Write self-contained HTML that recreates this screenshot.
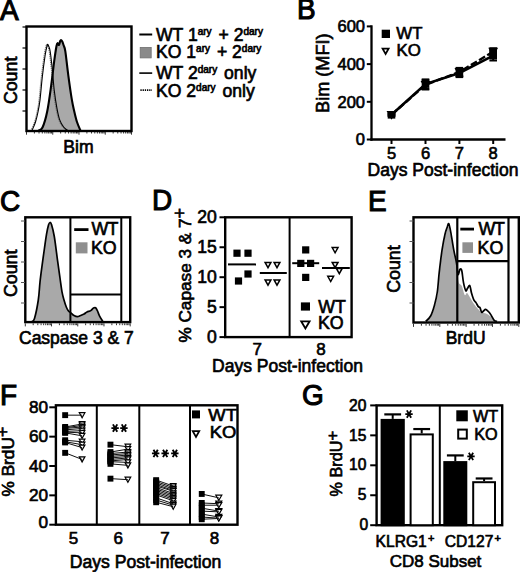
<!DOCTYPE html>
<html><head><meta charset="utf-8"><style>
html,body{margin:0;padding:0;background:#fff;}
svg{display:block;}
text{font-family:"Liberation Sans",sans-serif;fill:#000;stroke:#000;stroke-width:0.65px;}
</style></head><body>
<svg width="520" height="572" viewBox="0 0 520 572" font-family="Liberation Sans, sans-serif">
<rect width="520" height="572" fill="#fff"/>
<text transform="translate(0,20.00) scale(1,1.085)" font-size="28" style="stroke-width:1.05px">A</text>
<path d="M38.50,130.50 C39.17,130.00 41.05,130.67 42.50,127.50 C43.95,124.33 45.75,118.52 47.20,111.50 C48.65,104.48 50.03,93.78 51.20,85.40 C52.37,77.02 53.32,67.77 54.20,61.20 C55.08,54.63 55.93,49.02 56.50,46.00 C57.07,42.98 57.18,43.27 57.60,43.10 C58.02,42.93 58.57,45.35 59.00,45.00 C59.43,44.65 59.83,41.82 60.20,41.00 C60.57,40.18 60.82,39.93 61.20,40.10 C61.58,40.27 62.12,41.18 62.50,42.00 C62.88,42.82 63.03,43.47 63.50,45.00 C63.97,46.53 64.50,46.15 65.30,51.20 C66.10,56.25 67.22,67.27 68.30,75.30 C69.38,83.33 70.80,93.37 71.80,99.40 C72.80,105.43 73.43,107.73 74.30,111.50 C75.17,115.27 75.98,118.83 77.00,122.00 C78.02,125.17 79.83,129.08 80.40,130.50 Z" fill="#a9a9a9" stroke="none"/>
<path d="M31.00,130.50 C31.58,129.08 33.48,125.17 34.50,122.00 C35.52,118.83 36.35,115.17 37.10,111.50 C37.85,107.83 38.30,105.75 39.00,100.00 C39.70,94.25 40.45,84.42 41.30,77.00 C42.15,69.58 43.32,60.67 44.10,55.50 C44.88,50.33 45.55,47.85 46.00,46.00 C46.45,44.15 46.50,44.32 46.80,44.40 C47.10,44.48 47.40,45.32 47.80,46.50 C48.20,47.68 48.60,47.58 49.20,51.50 C49.80,55.42 50.73,63.58 51.40,70.00 C52.07,76.42 52.45,83.65 53.20,90.00 C53.95,96.35 54.98,103.12 55.90,108.10 C56.82,113.08 57.58,116.75 58.70,119.90 C59.82,123.05 61.25,125.23 62.60,127.00 C63.95,128.77 66.10,129.92 66.80,130.50" fill="none" stroke="#666" stroke-width="1.0" stroke-dasharray="1.2,0.8"/>
<path d="M32.00,130.50 C32.58,129.08 34.48,125.17 35.50,122.00 C36.52,118.83 37.35,115.17 38.10,111.50 C38.85,107.83 39.30,105.75 40.00,100.00 C40.70,94.25 41.45,84.42 42.30,77.00 C43.15,69.58 44.32,60.67 45.10,55.50 C45.88,50.33 46.55,47.85 47.00,46.00 C47.45,44.15 47.50,44.32 47.80,44.40 C48.10,44.48 48.40,45.32 48.80,46.50 C49.20,47.68 49.60,47.58 50.20,51.50 C50.80,55.42 51.73,63.58 52.40,70.00 C53.07,76.42 53.45,83.65 54.20,90.00 C54.95,96.35 55.98,103.12 56.90,108.10 C57.82,113.08 58.58,116.75 59.70,119.90 C60.82,123.05 62.25,125.23 63.60,127.00 C64.95,128.77 67.10,129.92 67.80,130.50" fill="none" stroke="#000" stroke-width="1.1"/>
<path d="M38.50,130.50 C39.17,130.00 41.05,130.67 42.50,127.50 C43.95,124.33 45.75,118.52 47.20,111.50 C48.65,104.48 50.03,93.78 51.20,85.40 C52.37,77.02 53.32,67.77 54.20,61.20 C55.08,54.63 55.93,49.02 56.50,46.00 C57.07,42.98 57.18,43.27 57.60,43.10 C58.02,42.93 58.57,45.35 59.00,45.00 C59.43,44.65 59.83,41.82 60.20,41.00 C60.57,40.18 60.82,39.93 61.20,40.10 C61.58,40.27 62.12,41.18 62.50,42.00 C62.88,42.82 63.03,43.47 63.50,45.00 C63.97,46.53 64.50,46.15 65.30,51.20 C66.10,56.25 67.22,67.27 68.30,75.30 C69.38,83.33 70.80,93.37 71.80,99.40 C72.80,105.43 73.43,107.73 74.30,111.50 C75.17,115.27 75.98,118.83 77.00,122.00 C78.02,125.17 79.83,129.08 80.40,130.50" fill="none" stroke="#000" stroke-width="2.1"/>
<rect x="26.5" y="26.5" width="105" height="104.5" fill="none" stroke="#000" stroke-width="2.4"/>
<line x1="22.5" y1="27" x2="26.5" y2="27" stroke="#000" stroke-width="1.2" />
<line x1="22.5" y1="48" x2="26.5" y2="48" stroke="#000" stroke-width="1.2" />
<line x1="22.5" y1="69" x2="26.5" y2="69" stroke="#000" stroke-width="1.2" />
<line x1="22.5" y1="90" x2="26.5" y2="90" stroke="#000" stroke-width="1.2" />
<line x1="22.5" y1="111" x2="26.5" y2="111" stroke="#000" stroke-width="1.2" />
<line x1="26.50" y1="131.7" x2="26.50" y2="134.7" stroke="#000" stroke-width="0.8" />
<line x1="34.40" y1="131.7" x2="34.40" y2="133.5" stroke="#000" stroke-width="0.8" />
<line x1="39.02" y1="131.7" x2="39.02" y2="133.5" stroke="#000" stroke-width="0.8" />
<line x1="42.30" y1="131.7" x2="42.30" y2="133.5" stroke="#000" stroke-width="0.8" />
<line x1="44.85" y1="131.7" x2="44.85" y2="133.5" stroke="#000" stroke-width="0.8" />
<line x1="46.93" y1="131.7" x2="46.93" y2="133.5" stroke="#000" stroke-width="0.8" />
<line x1="48.68" y1="131.7" x2="48.68" y2="133.5" stroke="#000" stroke-width="0.8" />
<line x1="50.21" y1="131.7" x2="50.21" y2="133.5" stroke="#000" stroke-width="0.8" />
<line x1="51.55" y1="131.7" x2="51.55" y2="133.5" stroke="#000" stroke-width="0.8" />
<line x1="52.75" y1="131.7" x2="52.75" y2="134.7" stroke="#000" stroke-width="0.8" />
<line x1="60.65" y1="131.7" x2="60.65" y2="133.5" stroke="#000" stroke-width="0.8" />
<line x1="65.27" y1="131.7" x2="65.27" y2="133.5" stroke="#000" stroke-width="0.8" />
<line x1="68.55" y1="131.7" x2="68.55" y2="133.5" stroke="#000" stroke-width="0.8" />
<line x1="71.10" y1="131.7" x2="71.10" y2="133.5" stroke="#000" stroke-width="0.8" />
<line x1="73.18" y1="131.7" x2="73.18" y2="133.5" stroke="#000" stroke-width="0.8" />
<line x1="74.93" y1="131.7" x2="74.93" y2="133.5" stroke="#000" stroke-width="0.8" />
<line x1="76.46" y1="131.7" x2="76.46" y2="133.5" stroke="#000" stroke-width="0.8" />
<line x1="77.80" y1="131.7" x2="77.80" y2="133.5" stroke="#000" stroke-width="0.8" />
<line x1="79.00" y1="131.7" x2="79.00" y2="134.7" stroke="#000" stroke-width="0.8" />
<line x1="86.90" y1="131.7" x2="86.90" y2="133.5" stroke="#000" stroke-width="0.8" />
<line x1="91.52" y1="131.7" x2="91.52" y2="133.5" stroke="#000" stroke-width="0.8" />
<line x1="94.80" y1="131.7" x2="94.80" y2="133.5" stroke="#000" stroke-width="0.8" />
<line x1="97.35" y1="131.7" x2="97.35" y2="133.5" stroke="#000" stroke-width="0.8" />
<line x1="99.43" y1="131.7" x2="99.43" y2="133.5" stroke="#000" stroke-width="0.8" />
<line x1="101.18" y1="131.7" x2="101.18" y2="133.5" stroke="#000" stroke-width="0.8" />
<line x1="102.71" y1="131.7" x2="102.71" y2="133.5" stroke="#000" stroke-width="0.8" />
<line x1="104.05" y1="131.7" x2="104.05" y2="133.5" stroke="#000" stroke-width="0.8" />
<line x1="105.25" y1="131.7" x2="105.25" y2="134.7" stroke="#000" stroke-width="0.8" />
<line x1="113.15" y1="131.7" x2="113.15" y2="133.5" stroke="#000" stroke-width="0.8" />
<line x1="117.77" y1="131.7" x2="117.77" y2="133.5" stroke="#000" stroke-width="0.8" />
<line x1="121.05" y1="131.7" x2="121.05" y2="133.5" stroke="#000" stroke-width="0.8" />
<line x1="123.60" y1="131.7" x2="123.60" y2="133.5" stroke="#000" stroke-width="0.8" />
<line x1="125.68" y1="131.7" x2="125.68" y2="133.5" stroke="#000" stroke-width="0.8" />
<line x1="127.43" y1="131.7" x2="127.43" y2="133.5" stroke="#000" stroke-width="0.8" />
<line x1="128.96" y1="131.7" x2="128.96" y2="133.5" stroke="#000" stroke-width="0.8" />
<line x1="130.30" y1="131.7" x2="130.30" y2="133.5" stroke="#000" stroke-width="0.8" />
<line x1="131.50" y1="131.7" x2="131.50" y2="134.7" stroke="#000" stroke-width="0.8" />
<text transform="translate(17.1,80.4) rotate(-90)" x="0" y="0" font-size="17.8" text-anchor="middle" >Count</text>
<text x="78.4" y="152.6" font-size="17.6" text-anchor="middle" >Bim</text>
<line x1="139.3" y1="34.5" x2="152.2" y2="34.5" stroke="#000" stroke-width="2" />
<text x="156" y="40.6" font-size="17.6">WT 1<tspan font-size="10" dy="-5.8">ary</tspan><tspan dy="5.8" dx="2"> + 2</tspan><tspan font-size="10" dy="-5.8">dary</tspan></text>
<rect x="140.2" y="47.4" width="11" height="10.5" fill="#8a8a8a" stroke="#707070" stroke-width="0.8"/>
<text x="156" y="58.2" font-size="17.6">KO 1<tspan font-size="10" dy="-5.8">ary</tspan><tspan dy="5.8" dx="2"> + 2</tspan><tspan font-size="10" dy="-5.8">dary</tspan></text>
<line x1="139.3" y1="73.1" x2="152.2" y2="73.1" stroke="#000" stroke-width="1.6" />
<text x="156" y="79.1" font-size="17.6">WT 2<tspan font-size="10" dy="-5.8">dary</tspan><tspan dy="5.8" dx="2"> only</tspan></text>
<line x1="140.4" y1="90.2" x2="152" y2="90.2" stroke="#000" stroke-width="1.8" stroke-dasharray="1.3,0.9"/>
<text x="156" y="96.7" font-size="17.6">KO 2<tspan font-size="10" dy="-5.8">dary</tspan><tspan dy="5.8" dx="2"> only</tspan></text>
<text transform="translate(297,19.10) scale(1,1.085)" font-size="28" style="stroke-width:1.05px">B</text>
<line x1="371.5" y1="25.3" x2="371.5" y2="140.7" stroke="#000" stroke-width="2.3" />
<line x1="370.4" y1="139.5" x2="505.5" y2="139.5" stroke="#000" stroke-width="2.3" />
<line x1="366.8" y1="139.5" x2="371.5" y2="139.5" stroke="#000" stroke-width="2" />
<text x="365" y="144.5" font-size="16.5" text-anchor="end" >0</text>
<line x1="366.8" y1="101.8" x2="371.5" y2="101.8" stroke="#000" stroke-width="2" />
<text x="365" y="107.8" font-size="16.5" text-anchor="end" >200</text>
<line x1="366.8" y1="64.1" x2="371.5" y2="64.1" stroke="#000" stroke-width="2" />
<text x="365" y="70.1" font-size="16.5" text-anchor="end" >400</text>
<line x1="366.8" y1="26.400000000000006" x2="371.5" y2="26.400000000000006" stroke="#000" stroke-width="2" />
<text x="365" y="32.400000000000006" font-size="16.5" text-anchor="end" >600</text>
<line x1="391.5" y1="139.5" x2="391.5" y2="144" stroke="#000" stroke-width="2" />
<text x="391.5" y="158.5" font-size="16.5" text-anchor="middle" >5</text>
<line x1="425.5" y1="139.5" x2="425.5" y2="144" stroke="#000" stroke-width="2" />
<text x="425.5" y="158.5" font-size="16.5" text-anchor="middle" >6</text>
<line x1="459.4" y1="139.5" x2="459.4" y2="144" stroke="#000" stroke-width="2" />
<text x="459.4" y="158.5" font-size="16.5" text-anchor="middle" >7</text>
<line x1="493.2" y1="139.5" x2="493.2" y2="144" stroke="#000" stroke-width="2" />
<text x="493.2" y="158.5" font-size="16.5" text-anchor="middle" >8</text>
<text x="443" y="176" font-size="17.5" text-anchor="middle" >Days Post-infection</text>
<text transform="translate(329.0,73.2) rotate(-90)" x="0" y="0" font-size="18.1" text-anchor="middle" >Bim (MFI)</text>
<line x1="391.5" y1="115.7" x2="391.5" y2="113.9" stroke="#000" stroke-width="2" />
<line x1="387.7" y1="113.9" x2="395.3" y2="113.9" stroke="#000" stroke-width="2" />
<line x1="387.7" y1="115.7" x2="395.3" y2="115.7" stroke="#000" stroke-width="2" />
<line x1="391.5" y1="115.7" x2="391.5" y2="113.9" stroke="#000" stroke-width="2" />
<line x1="387.7" y1="113.9" x2="395.3" y2="113.9" stroke="#000" stroke-width="2" />
<line x1="387.7" y1="115.7" x2="395.3" y2="115.7" stroke="#000" stroke-width="2" />
<line x1="425.5" y1="88.8" x2="425.5" y2="79.4" stroke="#000" stroke-width="2" />
<line x1="421.7" y1="79.4" x2="429.3" y2="79.4" stroke="#000" stroke-width="2" />
<line x1="421.7" y1="88.8" x2="429.3" y2="88.8" stroke="#000" stroke-width="2" />
<line x1="425.5" y1="89.5" x2="425.5" y2="80.1" stroke="#000" stroke-width="2" />
<line x1="421.7" y1="80.1" x2="429.3" y2="80.1" stroke="#000" stroke-width="2" />
<line x1="421.7" y1="89.5" x2="429.3" y2="89.5" stroke="#000" stroke-width="2" />
<line x1="459.4" y1="77.1" x2="459.4" y2="68.8" stroke="#000" stroke-width="2" />
<line x1="455.59999999999997" y1="68.8" x2="463.2" y2="68.8" stroke="#000" stroke-width="2" />
<line x1="455.59999999999997" y1="77.1" x2="463.2" y2="77.1" stroke="#000" stroke-width="2" />
<line x1="459.4" y1="76.2" x2="459.4" y2="67.9" stroke="#000" stroke-width="2" />
<line x1="455.59999999999997" y1="67.9" x2="463.2" y2="67.9" stroke="#000" stroke-width="2" />
<line x1="455.59999999999997" y1="76.2" x2="463.2" y2="76.2" stroke="#000" stroke-width="2" />
<line x1="493.2" y1="60.5" x2="493.2" y2="50.7" stroke="#000" stroke-width="2" />
<line x1="489.4" y1="50.7" x2="497.0" y2="50.7" stroke="#000" stroke-width="2" />
<line x1="489.4" y1="60.5" x2="497.0" y2="60.5" stroke="#000" stroke-width="2" />
<line x1="493.2" y1="55.1" x2="493.2" y2="48.3" stroke="#000" stroke-width="2" />
<line x1="489.4" y1="48.3" x2="497.0" y2="48.3" stroke="#000" stroke-width="2" />
<line x1="489.4" y1="55.1" x2="497.0" y2="55.1" stroke="#000" stroke-width="2" />
<polyline points="391.5,114.8 425.5,84.8 459.4,72.0 493.2,51.7" fill="none" stroke="#000" stroke-width="2.4" stroke-dasharray="7,2.5"/>
<polyline points="391.5,114.8 425.5,84.1 459.4,73.0 493.2,55.6" fill="none" stroke="#000" stroke-width="2.6"/>
<path d="M388.1,111.8 L394.9,111.8 L391.5,118.0 Z" fill="#fff" stroke="#000" stroke-width="1.8"/>
<path d="M422.1,81.8 L428.9,81.8 L425.5,88.0 Z" fill="#fff" stroke="#000" stroke-width="1.8"/>
<path d="M456.0,69.0 L462.8,69.0 L459.4,75.2 Z" fill="#fff" stroke="#000" stroke-width="1.8"/>
<path d="M489.8,48.7 L496.6,48.7 L493.2,54.9 Z" fill="#fff" stroke="#000" stroke-width="1.8"/>
<rect x="387.7" y="111.0" width="7.6" height="7.6" fill="#000"/>
<rect x="421.7" y="80.3" width="7.6" height="7.6" fill="#000"/>
<rect x="455.6" y="69.2" width="7.6" height="7.6" fill="#000"/>
<rect x="489.4" y="51.8" width="7.6" height="7.6" fill="#000"/>
<rect x="489.4" y="47.9" width="7.6" height="7.6" fill="#000"/>
<rect x="381.7" y="29.7" width="8.3" height="8.3" fill="#000"/>
<text x="396.3" y="38.5" font-size="16.8" text-anchor="start" >WT</text>
<path d="M382.6,48.6 L388.6,48.6 L385.6,54 Z" fill="#fff" stroke="#000" stroke-width="1.8"/>
<text x="396.6" y="56.2" font-size="16.8" text-anchor="start" >KO</text>
<text transform="translate(0,211.00) scale(1,1.085)" font-size="28" style="stroke-width:1.05px">C</text>
<path d="M32.00,321.50 C32.42,321.00 33.45,322.08 34.50,318.50 C35.55,314.92 37.38,306.08 38.30,300.00 C39.22,293.92 39.37,287.78 40.00,282.00 C40.63,276.22 41.35,270.97 42.10,265.30 C42.85,259.63 43.77,253.17 44.50,248.00 C45.23,242.83 45.83,238.13 46.50,234.30 C47.17,230.47 47.93,226.97 48.50,225.00 C49.07,223.03 49.40,222.58 49.90,222.50 C50.40,222.42 50.77,222.17 51.50,224.50 C52.23,226.83 53.28,230.43 54.30,236.50 C55.32,242.57 56.65,253.98 57.60,260.90 C58.55,267.82 59.27,272.85 60.00,278.00 C60.73,283.15 61.33,288.13 62.00,291.80 C62.67,295.47 63.27,297.42 64.00,300.00 C64.73,302.58 65.65,305.47 66.40,307.30 C67.15,309.13 67.75,310.08 68.50,311.00 C69.25,311.92 69.98,312.05 70.90,312.80 C71.82,313.55 72.90,314.87 74.00,315.50 C75.10,316.13 76.42,316.60 77.50,316.60 C78.58,316.60 79.40,315.93 80.50,315.50 C81.60,315.07 83.02,314.58 84.10,314.00 C85.18,313.42 85.88,312.57 87.00,312.00 C88.12,311.43 89.72,311.27 90.80,310.60 C91.88,309.93 92.70,308.47 93.50,308.00 C94.30,307.53 94.93,307.30 95.60,307.80 C96.27,308.30 96.83,309.62 97.50,311.00 C98.17,312.38 98.70,314.35 99.60,316.10 C100.50,317.85 102.35,320.60 102.90,321.50 Z" fill="#a9a9a9" stroke="none"/>
<path d="M32.00,321.50 C32.42,321.00 33.45,322.08 34.50,318.50 C35.55,314.92 37.38,306.08 38.30,300.00 C39.22,293.92 39.37,287.78 40.00,282.00 C40.63,276.22 41.35,270.97 42.10,265.30 C42.85,259.63 43.77,253.17 44.50,248.00 C45.23,242.83 45.83,238.13 46.50,234.30 C47.17,230.47 47.93,226.97 48.50,225.00 C49.07,223.03 49.40,222.58 49.90,222.50 C50.40,222.42 50.77,222.17 51.50,224.50 C52.23,226.83 53.28,230.43 54.30,236.50 C55.32,242.57 56.65,253.98 57.60,260.90 C58.55,267.82 59.27,272.85 60.00,278.00 C60.73,283.15 61.33,288.13 62.00,291.80 C62.67,295.47 63.27,297.42 64.00,300.00 C64.73,302.58 65.65,305.47 66.40,307.30 C67.15,309.13 67.75,310.08 68.50,311.00 C69.25,311.92 69.98,312.05 70.90,312.80 C71.82,313.55 72.90,314.87 74.00,315.50 C75.10,316.13 76.42,316.60 77.50,316.60 C78.58,316.60 79.40,315.93 80.50,315.50 C81.60,315.07 83.02,314.58 84.10,314.00 C85.18,313.42 85.88,312.57 87.00,312.00 C88.12,311.43 89.72,311.27 90.80,310.60 C91.88,309.93 92.70,308.47 93.50,308.00 C94.30,307.53 94.93,307.30 95.60,307.80 C96.27,308.30 96.83,309.62 97.50,311.00 C98.17,312.38 98.70,314.35 99.60,316.10 C100.50,317.85 102.35,320.60 102.90,321.50" fill="none" stroke="#000" stroke-width="1.7"/>
<rect x="25.3" y="217.3" width="104.9" height="104.8" fill="none" stroke="#000" stroke-width="2.4"/>
<line x1="70.4" y1="217.3" x2="70.4" y2="322" stroke="#000" stroke-width="2" />
<line x1="121.3" y1="217.3" x2="121.3" y2="322" stroke="#000" stroke-width="2" />
<line x1="70.4" y1="294.5" x2="121.3" y2="294.5" stroke="#000" stroke-width="2" />
<line x1="21" y1="221" x2="25" y2="221" stroke="#555" stroke-width="1" />
<line x1="21" y1="241.5" x2="25" y2="241.5" stroke="#555" stroke-width="1" />
<line x1="21" y1="262" x2="25" y2="262" stroke="#555" stroke-width="1" />
<line x1="21" y1="282.5" x2="25" y2="282.5" stroke="#555" stroke-width="1" />
<line x1="21" y1="303" x2="25" y2="303" stroke="#555" stroke-width="1" />
<line x1="25.30" y1="323.4" x2="25.30" y2="326.4" stroke="#000" stroke-width="0.8" />
<line x1="33.19" y1="323.4" x2="33.19" y2="325.2" stroke="#000" stroke-width="0.8" />
<line x1="37.81" y1="323.4" x2="37.81" y2="325.2" stroke="#000" stroke-width="0.8" />
<line x1="41.09" y1="323.4" x2="41.09" y2="325.2" stroke="#000" stroke-width="0.8" />
<line x1="43.63" y1="323.4" x2="43.63" y2="325.2" stroke="#000" stroke-width="0.8" />
<line x1="45.71" y1="323.4" x2="45.71" y2="325.2" stroke="#000" stroke-width="0.8" />
<line x1="47.46" y1="323.4" x2="47.46" y2="325.2" stroke="#000" stroke-width="0.8" />
<line x1="48.98" y1="323.4" x2="48.98" y2="325.2" stroke="#000" stroke-width="0.8" />
<line x1="50.33" y1="323.4" x2="50.33" y2="325.2" stroke="#000" stroke-width="0.8" />
<line x1="51.52" y1="323.4" x2="51.52" y2="326.4" stroke="#000" stroke-width="0.8" />
<line x1="59.42" y1="323.4" x2="59.42" y2="325.2" stroke="#000" stroke-width="0.8" />
<line x1="64.04" y1="323.4" x2="64.04" y2="325.2" stroke="#000" stroke-width="0.8" />
<line x1="67.31" y1="323.4" x2="67.31" y2="325.2" stroke="#000" stroke-width="0.8" />
<line x1="69.86" y1="323.4" x2="69.86" y2="325.2" stroke="#000" stroke-width="0.8" />
<line x1="71.93" y1="323.4" x2="71.93" y2="325.2" stroke="#000" stroke-width="0.8" />
<line x1="73.69" y1="323.4" x2="73.69" y2="325.2" stroke="#000" stroke-width="0.8" />
<line x1="75.21" y1="323.4" x2="75.21" y2="325.2" stroke="#000" stroke-width="0.8" />
<line x1="76.55" y1="323.4" x2="76.55" y2="325.2" stroke="#000" stroke-width="0.8" />
<line x1="77.75" y1="323.4" x2="77.75" y2="326.4" stroke="#000" stroke-width="0.8" />
<line x1="85.64" y1="323.4" x2="85.64" y2="325.2" stroke="#000" stroke-width="0.8" />
<line x1="90.26" y1="323.4" x2="90.26" y2="325.2" stroke="#000" stroke-width="0.8" />
<line x1="93.54" y1="323.4" x2="93.54" y2="325.2" stroke="#000" stroke-width="0.8" />
<line x1="96.08" y1="323.4" x2="96.08" y2="325.2" stroke="#000" stroke-width="0.8" />
<line x1="98.16" y1="323.4" x2="98.16" y2="325.2" stroke="#000" stroke-width="0.8" />
<line x1="99.91" y1="323.4" x2="99.91" y2="325.2" stroke="#000" stroke-width="0.8" />
<line x1="101.43" y1="323.4" x2="101.43" y2="325.2" stroke="#000" stroke-width="0.8" />
<line x1="102.78" y1="323.4" x2="102.78" y2="325.2" stroke="#000" stroke-width="0.8" />
<line x1="103.97" y1="323.4" x2="103.97" y2="326.4" stroke="#000" stroke-width="0.8" />
<line x1="111.87" y1="323.4" x2="111.87" y2="325.2" stroke="#000" stroke-width="0.8" />
<line x1="116.49" y1="323.4" x2="116.49" y2="325.2" stroke="#000" stroke-width="0.8" />
<line x1="119.76" y1="323.4" x2="119.76" y2="325.2" stroke="#000" stroke-width="0.8" />
<line x1="122.31" y1="323.4" x2="122.31" y2="325.2" stroke="#000" stroke-width="0.8" />
<line x1="124.38" y1="323.4" x2="124.38" y2="325.2" stroke="#000" stroke-width="0.8" />
<line x1="126.14" y1="323.4" x2="126.14" y2="325.2" stroke="#000" stroke-width="0.8" />
<line x1="127.66" y1="323.4" x2="127.66" y2="325.2" stroke="#000" stroke-width="0.8" />
<line x1="129.00" y1="323.4" x2="129.00" y2="325.2" stroke="#000" stroke-width="0.8" />
<line x1="130.20" y1="323.4" x2="130.20" y2="326.4" stroke="#000" stroke-width="0.8" />
<text transform="translate(17.1,273.3) rotate(-90)" x="0" y="0" font-size="17.8" text-anchor="middle" >Count</text>
<text x="76.4" y="343.8" font-size="17.5" text-anchor="middle" >Caspase 3 &amp; 7</text>
<line x1="74.2" y1="229.6" x2="88.5" y2="229.6" stroke="#000" stroke-width="2.8" />
<text x="91.4" y="234.9" font-size="17.8" text-anchor="start" letter-spacing="-0.6">WT</text>
<rect x="75.8" y="242.3" width="11.7" height="11.1" fill="#8f8f8f" stroke="none" stroke-width="0"/>
<text x="90.9" y="253.8" font-size="17.8" text-anchor="start" >KO</text>
<text transform="translate(152,210.20) scale(1,1.085)" font-size="28" style="stroke-width:1.05px">D</text>
<rect x="225.2" y="217.3" width="126.4" height="119.8" fill="none" stroke="#000" stroke-width="2.4"/>
<line x1="289.6" y1="217.3" x2="289.6" y2="337.1" stroke="#000" stroke-width="2" />
<line x1="219.5" y1="337.1" x2="225.2" y2="337.1" stroke="#000" stroke-width="2" />
<text x="216.8" y="342.80" font-size="17.6" text-anchor="end">0</text>
<line x1="219.5" y1="307.15000000000003" x2="225.2" y2="307.15000000000003" stroke="#000" stroke-width="2" />
<text x="216.8" y="312.75" font-size="17.6" text-anchor="end">5</text>
<line x1="219.5" y1="277.20000000000005" x2="225.2" y2="277.20000000000005" stroke="#000" stroke-width="2" />
<text x="216.8" y="282.80" font-size="17.6" text-anchor="end">10</text>
<line x1="219.5" y1="247.25000000000003" x2="225.2" y2="247.25000000000003" stroke="#000" stroke-width="2" />
<text x="216.8" y="252.85" font-size="17.6" text-anchor="end">15</text>
<line x1="219.5" y1="217.3" x2="225.2" y2="217.3" stroke="#000" stroke-width="2" />
<text x="216.8" y="222.90" font-size="17.6" text-anchor="end">20</text>
<text x="257.2" y="355" font-size="17" text-anchor="middle" >7</text>
<text x="321" y="355" font-size="17" text-anchor="middle" >8</text>
<text x="287.5" y="372.3" font-size="17.5" text-anchor="middle" >Days Post-infection</text>
<text transform="translate(190.8,275.3) rotate(-90)" x="0" y="0" font-size="17.2" text-anchor="middle" >% Capase 3 &amp; 7<tspan font-size="17.5" dy="-5" dx="0.2">+</tspan></text>
<rect x="233.4" y="249.6" width="7.2" height="7.2" fill="#000"/>
<rect x="244.4" y="249.6" width="7.2" height="7.2" fill="#000"/>
<rect x="244.4" y="270.4" width="7.2" height="7.2" fill="#000"/>
<rect x="234.9" y="277.4" width="7.2" height="7.2" fill="#000"/>
<line x1="228" y1="264.4" x2="256" y2="264.4" stroke="#000" stroke-width="2" />
<path d="M265.1,262.4 L270.9,262.4 L268.0,267.6 Z" fill="#fff" stroke="#000" stroke-width="1.5"/>
<path d="M274.1,262.4 L279.9,262.4 L277.0,267.6 Z" fill="#fff" stroke="#000" stroke-width="1.5"/>
<path d="M265.1,279.9 L270.9,279.9 L268.0,285.1 Z" fill="#fff" stroke="#000" stroke-width="1.5"/>
<path d="M274.1,279.9 L279.9,279.9 L277.0,285.1 Z" fill="#fff" stroke="#000" stroke-width="1.5"/>
<line x1="259.8" y1="273" x2="286.8" y2="273" stroke="#000" stroke-width="2" />
<rect x="302.1" y="246.3" width="7.2" height="7.2" fill="#000"/>
<rect x="297.2" y="259.8" width="7.2" height="7.2" fill="#000"/>
<rect x="307.0" y="259.8" width="7.2" height="7.2" fill="#000"/>
<rect x="302.1" y="273.8" width="7.2" height="7.2" fill="#000"/>
<line x1="292.2" y1="263.2" x2="319.2" y2="263.2" stroke="#000" stroke-width="2" />
<path d="M332.2,247.6 L338.0,247.6 L335.1,252.8 Z" fill="#fff" stroke="#000" stroke-width="1.5"/>
<path d="M332.2,262.4 L338.0,262.4 L335.1,267.6 Z" fill="#fff" stroke="#000" stroke-width="1.5"/>
<path d="M336.4,268.4 L342.2,268.4 L339.3,273.6 Z" fill="#fff" stroke="#000" stroke-width="1.5"/>
<path d="M327.8,276.3 L333.6,276.3 L330.7,281.5 Z" fill="#fff" stroke="#000" stroke-width="1.5"/>
<line x1="322" y1="268" x2="349.8" y2="268" stroke="#000" stroke-width="2" />
<rect x="300.9" y="302.4" width="9.1" height="8.2" fill="#000"/>
<text x="318.3" y="312.6" font-size="17.8" text-anchor="start" >WT</text>
<path d="M301.2,321.3 L309.6,321.3 L305.4,328.5 Z" fill="#fff" stroke="#000" stroke-width="1.8"/>
<text x="317.9" y="329.4" font-size="17.8" text-anchor="start" >KO</text>
<text transform="translate(368,211.00) scale(1,1.085)" font-size="28" style="stroke-width:1.05px">E</text>
<path d="M426.30,321.40 C427.05,320.67 429.42,319.40 430.80,317.00 C432.18,314.60 433.48,310.83 434.60,307.00 C435.72,303.17 436.70,299.33 437.50,294.00 C438.30,288.67 438.60,282.08 439.40,275.00 C440.20,267.92 441.37,257.83 442.30,251.50 C443.23,245.17 444.17,240.67 445.00,237.00 C445.83,233.33 446.67,231.17 447.30,229.50 C447.93,227.83 448.25,226.25 448.80,227.00 C449.35,227.75 449.82,230.17 450.60,234.00 C451.38,237.83 452.68,245.83 453.50,250.00 C454.32,254.17 454.88,256.83 455.50,259.00 C456.12,261.17 456.70,259.23 457.20,263.00 C457.70,266.77 457.73,277.75 458.50,281.60 C459.27,285.45 460.77,283.87 461.80,286.10 C462.83,288.33 463.83,293.85 464.70,295.00 C465.57,296.15 466.12,292.58 467.00,293.00 C467.88,293.42 468.83,295.67 470.00,297.50 C471.17,299.33 472.67,302.08 474.00,304.00 C475.33,305.92 476.67,307.58 478.00,309.00 C479.33,310.42 480.67,311.75 482.00,312.50 C483.33,313.25 484.67,312.92 486.00,313.50 C487.33,314.08 488.67,314.92 490.00,316.00 C491.33,317.08 493.00,319.10 494.00,320.00 C495.00,320.90 495.67,321.17 496.00,321.40 Z" fill="#a9a9a9" stroke="none"/>
<path d="M425.80,321.40 C426.60,320.50 429.17,318.67 430.60,316.00 C432.03,313.33 433.28,309.40 434.40,305.40 C435.52,301.40 436.50,297.45 437.30,292.00 C438.10,286.55 438.40,279.77 439.20,272.70 C440.00,265.63 441.13,256.02 442.10,249.60 C443.07,243.18 444.13,237.97 445.00,234.20 C445.87,230.43 446.67,228.75 447.30,227.00 C447.93,225.25 448.22,222.82 448.80,223.70 C449.38,224.58 449.98,227.98 450.80,232.30 C451.62,236.62 452.75,244.48 453.70,249.60 C454.65,254.72 455.85,259.27 456.50,263.00 C457.15,266.73 457.28,270.08 457.60,272.00 C457.92,273.92 457.98,274.98 458.40,274.50 C458.82,274.02 459.53,269.72 460.10,269.10 C460.67,268.48 461.23,268.53 461.80,270.80 C462.37,273.07 462.83,279.38 463.50,282.70 C464.17,286.02 465.13,289.75 465.80,290.70 C466.47,291.65 466.83,289.25 467.50,288.40 C468.17,287.55 469.13,284.83 469.80,285.60 C470.47,286.37 470.83,290.63 471.50,293.00 C472.17,295.37 473.05,298.20 473.80,299.80 C474.55,301.40 475.25,301.47 476.00,302.60 C476.75,303.73 477.63,305.75 478.30,306.60 C478.97,307.45 479.43,306.75 480.00,307.70 C480.57,308.65 481.12,311.75 481.70,312.30 C482.28,312.85 482.83,311.48 483.50,311.00 C484.17,310.52 484.77,309.18 485.70,309.40 C486.63,309.62 488.15,311.25 489.10,312.30 C490.05,313.35 490.55,314.37 491.40,315.70 C492.25,317.03 493.27,319.35 494.20,320.30 C495.13,321.25 496.53,321.22 497.00,321.40" fill="none" stroke="#000" stroke-width="1.7"/>
<rect x="413.5" y="217.3" width="105.3" height="105.2" fill="none" stroke="#000" stroke-width="2.4"/>
<line x1="457.3" y1="217.3" x2="457.3" y2="322.5" stroke="#000" stroke-width="2.2" />
<line x1="508.5" y1="217.3" x2="508.5" y2="322.5" stroke="#000" stroke-width="2.2" />
<line x1="457.3" y1="261.2" x2="508.5" y2="261.2" stroke="#000" stroke-width="2.2" />
<line x1="409.5" y1="221" x2="413.5" y2="221" stroke="#555" stroke-width="1" />
<line x1="409.5" y1="241.5" x2="413.5" y2="241.5" stroke="#555" stroke-width="1" />
<line x1="409.5" y1="262" x2="413.5" y2="262" stroke="#555" stroke-width="1" />
<line x1="409.5" y1="282.5" x2="413.5" y2="282.5" stroke="#555" stroke-width="1" />
<line x1="409.5" y1="303" x2="413.5" y2="303" stroke="#555" stroke-width="1" />
<line x1="413.50" y1="323.9" x2="413.50" y2="326.9" stroke="#000" stroke-width="0.8" />
<line x1="421.42" y1="323.9" x2="421.42" y2="325.7" stroke="#000" stroke-width="0.8" />
<line x1="426.06" y1="323.9" x2="426.06" y2="325.7" stroke="#000" stroke-width="0.8" />
<line x1="429.35" y1="323.9" x2="429.35" y2="325.7" stroke="#000" stroke-width="0.8" />
<line x1="431.90" y1="323.9" x2="431.90" y2="325.7" stroke="#000" stroke-width="0.8" />
<line x1="433.98" y1="323.9" x2="433.98" y2="325.7" stroke="#000" stroke-width="0.8" />
<line x1="435.75" y1="323.9" x2="435.75" y2="325.7" stroke="#000" stroke-width="0.8" />
<line x1="437.27" y1="323.9" x2="437.27" y2="325.7" stroke="#000" stroke-width="0.8" />
<line x1="438.62" y1="323.9" x2="438.62" y2="325.7" stroke="#000" stroke-width="0.8" />
<line x1="439.82" y1="323.9" x2="439.82" y2="326.9" stroke="#000" stroke-width="0.8" />
<line x1="447.75" y1="323.9" x2="447.75" y2="325.7" stroke="#000" stroke-width="0.8" />
<line x1="452.39" y1="323.9" x2="452.39" y2="325.7" stroke="#000" stroke-width="0.8" />
<line x1="455.67" y1="323.9" x2="455.67" y2="325.7" stroke="#000" stroke-width="0.8" />
<line x1="458.23" y1="323.9" x2="458.23" y2="325.7" stroke="#000" stroke-width="0.8" />
<line x1="460.31" y1="323.9" x2="460.31" y2="325.7" stroke="#000" stroke-width="0.8" />
<line x1="462.07" y1="323.9" x2="462.07" y2="325.7" stroke="#000" stroke-width="0.8" />
<line x1="463.60" y1="323.9" x2="463.60" y2="325.7" stroke="#000" stroke-width="0.8" />
<line x1="464.95" y1="323.9" x2="464.95" y2="325.7" stroke="#000" stroke-width="0.8" />
<line x1="466.15" y1="323.9" x2="466.15" y2="326.9" stroke="#000" stroke-width="0.8" />
<line x1="474.07" y1="323.9" x2="474.07" y2="325.7" stroke="#000" stroke-width="0.8" />
<line x1="478.71" y1="323.9" x2="478.71" y2="325.7" stroke="#000" stroke-width="0.8" />
<line x1="482.00" y1="323.9" x2="482.00" y2="325.7" stroke="#000" stroke-width="0.8" />
<line x1="484.55" y1="323.9" x2="484.55" y2="325.7" stroke="#000" stroke-width="0.8" />
<line x1="486.63" y1="323.9" x2="486.63" y2="325.7" stroke="#000" stroke-width="0.8" />
<line x1="488.40" y1="323.9" x2="488.40" y2="325.7" stroke="#000" stroke-width="0.8" />
<line x1="489.92" y1="323.9" x2="489.92" y2="325.7" stroke="#000" stroke-width="0.8" />
<line x1="491.27" y1="323.9" x2="491.27" y2="325.7" stroke="#000" stroke-width="0.8" />
<line x1="492.47" y1="323.9" x2="492.47" y2="326.9" stroke="#000" stroke-width="0.8" />
<line x1="500.40" y1="323.9" x2="500.40" y2="325.7" stroke="#000" stroke-width="0.8" />
<line x1="505.04" y1="323.9" x2="505.04" y2="325.7" stroke="#000" stroke-width="0.8" />
<line x1="508.32" y1="323.9" x2="508.32" y2="325.7" stroke="#000" stroke-width="0.8" />
<line x1="510.88" y1="323.9" x2="510.88" y2="325.7" stroke="#000" stroke-width="0.8" />
<line x1="512.96" y1="323.9" x2="512.96" y2="325.7" stroke="#000" stroke-width="0.8" />
<line x1="514.72" y1="323.9" x2="514.72" y2="325.7" stroke="#000" stroke-width="0.8" />
<line x1="516.25" y1="323.9" x2="516.25" y2="325.7" stroke="#000" stroke-width="0.8" />
<line x1="517.60" y1="323.9" x2="517.60" y2="325.7" stroke="#000" stroke-width="0.8" />
<line x1="518.80" y1="323.9" x2="518.80" y2="326.9" stroke="#000" stroke-width="0.8" />
<text transform="translate(400.3,269.1) rotate(-90)" x="0" y="0" font-size="17.8" text-anchor="middle" >Count</text>
<text x="465.6" y="343.8" font-size="17.5" text-anchor="middle" >BrdU</text>
<line x1="460.3" y1="229.1" x2="474" y2="229.1" stroke="#000" stroke-width="2.8" />
<text x="478.5" y="234.9" font-size="17.8" text-anchor="start" letter-spacing="-1.2">WT</text>
<rect x="462.4" y="242.3" width="10.6" height="10.6" fill="#8f8f8f" stroke="none" stroke-width="0"/>
<text x="477.6" y="253.8" font-size="17.8" text-anchor="start" >KO</text>
<text transform="translate(0,405.20) scale(1,1.085)" font-size="28" style="stroke-width:1.05px">F</text>
<rect x="55.9" y="405.3" width="181.6" height="119.4" fill="none" stroke="#000" stroke-width="2.4"/>
<line x1="96.8" y1="405.3" x2="96.8" y2="524.7" stroke="#000" stroke-width="2" />
<line x1="139.3" y1="405.3" x2="139.3" y2="524.7" stroke="#000" stroke-width="2" />
<line x1="190" y1="405.3" x2="190" y2="524.7" stroke="#000" stroke-width="2" />
<line x1="49.3" y1="524.7" x2="55.9" y2="524.7" stroke="#000" stroke-width="2" />
<text x="48.1" y="527.76" font-size="17.2" text-anchor="end">0</text>
<line x1="49.3" y1="495.35" x2="55.9" y2="495.35" stroke="#000" stroke-width="2" />
<text x="48.1" y="501.11" font-size="17.2" text-anchor="end">20</text>
<line x1="49.3" y1="466.00000000000006" x2="55.9" y2="466.00000000000006" stroke="#000" stroke-width="2" />
<text x="48.1" y="471.76" font-size="17.2" text-anchor="end">40</text>
<line x1="49.3" y1="436.65000000000003" x2="55.9" y2="436.65000000000003" stroke="#000" stroke-width="2" />
<text x="48.1" y="442.41" font-size="17.2" text-anchor="end">60</text>
<line x1="49.3" y1="407.30000000000007" x2="55.9" y2="407.30000000000007" stroke="#000" stroke-width="2" />
<text x="48.1" y="413.06" font-size="17.2" text-anchor="end">80</text>
<text x="73.5" y="543.6" font-size="17" text-anchor="middle" >5</text>
<text x="118.2" y="543.6" font-size="17" text-anchor="middle" >6</text>
<text x="165" y="543.6" font-size="17" text-anchor="middle" >7</text>
<text x="214.6" y="543.6" font-size="17" text-anchor="middle" >8</text>
<text x="145.5" y="567.7" font-size="17.6" text-anchor="middle" >Days Post-infection</text>
<text transform="translate(14.1,461.6) rotate(-90)" x="0" y="0" font-size="17.2" text-anchor="middle" >% BrdU<tspan font-size="17.5" dy="-5" dx="0.2">+</tspan></text>
<path d="M79.3,412.7 L84.9,412.7 L82.1,417.7 Z" fill="#fff" stroke="#000" stroke-width="1.2"/>
<path d="M79.3,421.5 L84.9,421.5 L82.1,426.5 Z" fill="#fff" stroke="#000" stroke-width="1.2"/>
<path d="M79.3,423.0 L84.9,423.0 L82.1,428.0 Z" fill="#fff" stroke="#000" stroke-width="1.2"/>
<path d="M79.3,424.5 L84.9,424.5 L82.1,429.5 Z" fill="#fff" stroke="#000" stroke-width="1.2"/>
<path d="M79.3,425.9 L84.9,425.9 L82.1,430.9 Z" fill="#fff" stroke="#000" stroke-width="1.2"/>
<path d="M79.3,428.2 L84.9,428.2 L82.1,433.2 Z" fill="#fff" stroke="#000" stroke-width="1.2"/>
<path d="M79.3,430.4 L84.9,430.4 L82.1,435.4 Z" fill="#fff" stroke="#000" stroke-width="1.2"/>
<path d="M79.3,433.3 L84.9,433.3 L82.1,438.3 Z" fill="#fff" stroke="#000" stroke-width="1.2"/>
<path d="M79.3,439.2 L84.9,439.2 L82.1,444.2 Z" fill="#fff" stroke="#000" stroke-width="1.2"/>
<path d="M79.3,442.2 L84.9,442.2 L82.1,447.2 Z" fill="#fff" stroke="#000" stroke-width="1.2"/>
<path d="M79.3,445.1 L84.9,445.1 L82.1,450.1 Z" fill="#fff" stroke="#000" stroke-width="1.2"/>
<path d="M79.3,456.9 L84.9,456.9 L82.1,461.9 Z" fill="#fff" stroke="#000" stroke-width="1.2"/>
<line x1="65.2" y1="415.16" x2="82.1" y2="415.16" stroke="#111" stroke-width="1.0" />
<line x1="65.2" y1="426.97" x2="82.1" y2="424.01" stroke="#111" stroke-width="1.0" />
<line x1="65.2" y1="427.71" x2="82.1" y2="425.49" stroke="#111" stroke-width="1.0" />
<line x1="65.2" y1="428.44" x2="82.1" y2="426.97" stroke="#111" stroke-width="1.0" />
<line x1="65.2" y1="429.92" x2="82.1" y2="428.44" stroke="#111" stroke-width="1.0" />
<line x1="65.2" y1="431.40" x2="82.1" y2="430.66" stroke="#111" stroke-width="1.0" />
<line x1="65.2" y1="432.13" x2="82.1" y2="432.87" stroke="#111" stroke-width="1.0" />
<line x1="65.2" y1="432.87" x2="82.1" y2="435.82" stroke="#111" stroke-width="1.0" />
<line x1="65.2" y1="440.25" x2="82.1" y2="441.73" stroke="#111" stroke-width="1.0" />
<line x1="65.2" y1="441.73" x2="82.1" y2="444.68" stroke="#111" stroke-width="1.0" />
<line x1="65.2" y1="442.47" x2="82.1" y2="447.63" stroke="#111" stroke-width="1.0" />
<line x1="65.2" y1="452.80" x2="82.1" y2="459.44" stroke="#111" stroke-width="1.0" />
<rect x="62.2" y="412.2" width="5.9" height="5.9" fill="#000"/>
<rect x="62.2" y="424.0" width="5.9" height="5.9" fill="#000"/>
<rect x="62.2" y="424.8" width="5.9" height="5.9" fill="#000"/>
<rect x="62.2" y="425.5" width="5.9" height="5.9" fill="#000"/>
<rect x="62.2" y="427.0" width="5.9" height="5.9" fill="#000"/>
<rect x="62.2" y="428.4" width="5.9" height="5.9" fill="#000"/>
<rect x="62.2" y="429.2" width="5.9" height="5.9" fill="#000"/>
<rect x="62.2" y="429.9" width="5.9" height="5.9" fill="#000"/>
<rect x="62.2" y="437.3" width="5.9" height="5.9" fill="#000"/>
<rect x="62.2" y="438.8" width="5.9" height="5.9" fill="#000"/>
<rect x="62.2" y="439.5" width="5.9" height="5.9" fill="#000"/>
<rect x="62.2" y="449.9" width="5.9" height="5.9" fill="#000"/>
<path d="M125.1,444.2 L130.7,444.2 L127.9,449.2 Z" fill="#fff" stroke="#000" stroke-width="1.2"/>
<path d="M125.1,446.6 L130.7,446.6 L127.9,451.6 Z" fill="#fff" stroke="#000" stroke-width="1.2"/>
<path d="M125.1,449.6 L130.7,449.6 L127.9,454.6 Z" fill="#fff" stroke="#000" stroke-width="1.2"/>
<path d="M125.1,451.0 L130.7,451.0 L127.9,456.0 Z" fill="#fff" stroke="#000" stroke-width="1.2"/>
<path d="M125.1,452.5 L130.7,452.5 L127.9,457.5 Z" fill="#fff" stroke="#000" stroke-width="1.2"/>
<path d="M125.1,454.0 L130.7,454.0 L127.9,459.0 Z" fill="#fff" stroke="#000" stroke-width="1.2"/>
<path d="M125.1,455.5 L130.7,455.5 L127.9,460.5 Z" fill="#fff" stroke="#000" stroke-width="1.2"/>
<path d="M125.1,456.9 L130.7,456.9 L127.9,461.9 Z" fill="#fff" stroke="#000" stroke-width="1.2"/>
<path d="M125.1,459.9 L130.7,459.9 L127.9,464.9 Z" fill="#fff" stroke="#000" stroke-width="1.2"/>
<path d="M125.1,462.9 L130.7,462.9 L127.9,467.9 Z" fill="#fff" stroke="#000" stroke-width="1.2"/>
<path d="M125.1,477.2 L130.7,477.2 L127.9,482.2 Z" fill="#fff" stroke="#000" stroke-width="1.2"/>
<line x1="110.5" y1="444.68" x2="127.9" y2="446.75" stroke="#111" stroke-width="1.0" />
<line x1="110.5" y1="452.06" x2="127.9" y2="449.11" stroke="#111" stroke-width="1.0" />
<line x1="110.5" y1="453.54" x2="127.9" y2="452.06" stroke="#111" stroke-width="1.0" />
<line x1="110.5" y1="455.02" x2="127.9" y2="453.54" stroke="#111" stroke-width="1.0" />
<line x1="110.5" y1="456.49" x2="127.9" y2="455.02" stroke="#111" stroke-width="1.0" />
<line x1="110.5" y1="457.97" x2="127.9" y2="456.49" stroke="#111" stroke-width="1.0" />
<line x1="110.5" y1="459.44" x2="127.9" y2="457.97" stroke="#111" stroke-width="1.0" />
<line x1="110.5" y1="460.92" x2="127.9" y2="459.44" stroke="#111" stroke-width="1.0" />
<line x1="110.5" y1="461.66" x2="127.9" y2="462.40" stroke="#111" stroke-width="1.0" />
<line x1="110.5" y1="463.87" x2="127.9" y2="465.35" stroke="#111" stroke-width="1.0" />
<line x1="110.5" y1="478.64" x2="127.9" y2="479.67" stroke="#111" stroke-width="1.0" />
<rect x="107.5" y="441.7" width="5.9" height="5.9" fill="#000"/>
<rect x="107.5" y="449.1" width="5.9" height="5.9" fill="#000"/>
<rect x="107.5" y="450.6" width="5.9" height="5.9" fill="#000"/>
<rect x="107.5" y="452.1" width="5.9" height="5.9" fill="#000"/>
<rect x="107.5" y="453.5" width="5.9" height="5.9" fill="#000"/>
<rect x="107.5" y="455.0" width="5.9" height="5.9" fill="#000"/>
<rect x="107.5" y="456.5" width="5.9" height="5.9" fill="#000"/>
<rect x="107.5" y="458.0" width="5.9" height="5.9" fill="#000"/>
<rect x="107.5" y="458.7" width="5.9" height="5.9" fill="#000"/>
<rect x="107.5" y="460.9" width="5.9" height="5.9" fill="#000"/>
<rect x="107.5" y="475.7" width="5.9" height="5.9" fill="#000"/>
<path d="M170.4,483.5 L176.0,483.5 L173.2,488.5 Z" fill="#fff" stroke="#000" stroke-width="1.2"/>
<path d="M170.4,485.0 L176.0,485.0 L173.2,490.0 Z" fill="#fff" stroke="#000" stroke-width="1.2"/>
<path d="M170.4,486.5 L176.0,486.5 L173.2,491.5 Z" fill="#fff" stroke="#000" stroke-width="1.2"/>
<path d="M170.4,487.9 L176.0,487.9 L173.2,492.9 Z" fill="#fff" stroke="#000" stroke-width="1.2"/>
<path d="M170.4,488.7 L176.0,488.7 L173.2,493.7 Z" fill="#fff" stroke="#000" stroke-width="1.2"/>
<path d="M170.4,490.9 L176.0,490.9 L173.2,495.9 Z" fill="#fff" stroke="#000" stroke-width="1.2"/>
<path d="M170.4,492.4 L176.0,492.4 L173.2,497.4 Z" fill="#fff" stroke="#000" stroke-width="1.2"/>
<path d="M170.4,493.9 L176.0,493.9 L173.2,498.9 Z" fill="#fff" stroke="#000" stroke-width="1.2"/>
<path d="M170.4,495.3 L176.0,495.3 L173.2,500.3 Z" fill="#fff" stroke="#000" stroke-width="1.2"/>
<path d="M170.4,496.8 L176.0,496.8 L173.2,501.8 Z" fill="#fff" stroke="#000" stroke-width="1.2"/>
<path d="M170.4,498.3 L176.0,498.3 L173.2,503.3 Z" fill="#fff" stroke="#000" stroke-width="1.2"/>
<path d="M170.4,501.2 L176.0,501.2 L173.2,506.2 Z" fill="#fff" stroke="#000" stroke-width="1.2"/>
<path d="M170.4,502.7 L176.0,502.7 L173.2,507.7 Z" fill="#fff" stroke="#000" stroke-width="1.2"/>
<path d="M170.4,504.2 L176.0,504.2 L173.2,509.2 Z" fill="#fff" stroke="#000" stroke-width="1.2"/>
<line x1="156.2" y1="480.11" x2="173.2" y2="486.02" stroke="#111" stroke-width="1.0" />
<line x1="156.2" y1="481.59" x2="173.2" y2="487.49" stroke="#111" stroke-width="1.0" />
<line x1="156.2" y1="483.06" x2="173.2" y2="488.97" stroke="#111" stroke-width="1.0" />
<line x1="156.2" y1="484.54" x2="173.2" y2="490.45" stroke="#111" stroke-width="1.0" />
<line x1="156.2" y1="486.02" x2="173.2" y2="491.18" stroke="#111" stroke-width="1.0" />
<line x1="156.2" y1="487.49" x2="173.2" y2="493.40" stroke="#111" stroke-width="1.0" />
<line x1="156.2" y1="488.97" x2="173.2" y2="494.88" stroke="#111" stroke-width="1.0" />
<line x1="156.2" y1="490.45" x2="173.2" y2="496.35" stroke="#111" stroke-width="1.0" />
<line x1="156.2" y1="491.92" x2="173.2" y2="497.83" stroke="#111" stroke-width="1.0" />
<line x1="156.2" y1="493.40" x2="173.2" y2="499.30" stroke="#111" stroke-width="1.0" />
<line x1="156.2" y1="494.88" x2="173.2" y2="500.78" stroke="#111" stroke-width="1.0" />
<line x1="156.2" y1="497.83" x2="173.2" y2="503.73" stroke="#111" stroke-width="1.0" />
<line x1="156.2" y1="500.04" x2="173.2" y2="505.21" stroke="#111" stroke-width="1.0" />
<line x1="156.2" y1="502.26" x2="173.2" y2="506.69" stroke="#111" stroke-width="1.0" />
<rect x="153.2" y="477.2" width="5.9" height="5.9" fill="#000"/>
<rect x="153.2" y="478.6" width="5.9" height="5.9" fill="#000"/>
<rect x="153.2" y="480.1" width="5.9" height="5.9" fill="#000"/>
<rect x="153.2" y="481.6" width="5.9" height="5.9" fill="#000"/>
<rect x="153.2" y="483.1" width="5.9" height="5.9" fill="#000"/>
<rect x="153.2" y="484.5" width="5.9" height="5.9" fill="#000"/>
<rect x="153.2" y="486.0" width="5.9" height="5.9" fill="#000"/>
<rect x="153.2" y="487.5" width="5.9" height="5.9" fill="#000"/>
<rect x="153.2" y="489.0" width="5.9" height="5.9" fill="#000"/>
<rect x="153.2" y="490.4" width="5.9" height="5.9" fill="#000"/>
<rect x="153.2" y="491.9" width="5.9" height="5.9" fill="#000"/>
<rect x="153.2" y="494.9" width="5.9" height="5.9" fill="#000"/>
<rect x="153.2" y="497.1" width="5.9" height="5.9" fill="#000"/>
<rect x="153.2" y="499.3" width="5.9" height="5.9" fill="#000"/>
<path d="M215.8,495.2 L221.8,495.2 L218.8,500.4 Z" fill="#fff" stroke="#000" stroke-width="1.2"/>
<path d="M215.8,501.1 L221.8,501.1 L218.8,506.3 Z" fill="#fff" stroke="#000" stroke-width="1.2"/>
<path d="M215.8,502.6 L221.8,502.6 L218.8,507.8 Z" fill="#fff" stroke="#000" stroke-width="1.2"/>
<path d="M215.8,508.5 L221.8,508.5 L218.8,513.7 Z" fill="#fff" stroke="#000" stroke-width="1.2"/>
<path d="M215.8,509.3 L221.8,509.3 L218.8,514.5 Z" fill="#fff" stroke="#000" stroke-width="1.2"/>
<path d="M215.8,514.4 L221.8,514.4 L218.8,519.6 Z" fill="#fff" stroke="#000" stroke-width="1.2"/>
<path d="M215.8,515.6 L221.8,515.6 L218.8,520.8 Z" fill="#fff" stroke="#000" stroke-width="1.2"/>
<path d="M215.8,515.9 L221.8,515.9 L218.8,521.1 Z" fill="#fff" stroke="#000" stroke-width="1.2"/>
<line x1="201.7" y1="493.99" x2="218.8" y2="497.83" stroke="#111" stroke-width="1.0" />
<line x1="201.7" y1="502.99" x2="218.8" y2="503.73" stroke="#111" stroke-width="1.0" />
<line x1="201.7" y1="505.21" x2="218.8" y2="505.21" stroke="#111" stroke-width="1.0" />
<line x1="201.7" y1="508.16" x2="218.8" y2="511.11" stroke="#111" stroke-width="1.0" />
<line x1="201.7" y1="511.11" x2="218.8" y2="511.85" stroke="#111" stroke-width="1.0" />
<line x1="201.7" y1="514.07" x2="218.8" y2="517.02" stroke="#111" stroke-width="1.0" />
<line x1="201.7" y1="517.02" x2="218.8" y2="518.20" stroke="#111" stroke-width="1.0" />
<line x1="201.7" y1="519.23" x2="218.8" y2="518.50" stroke="#111" stroke-width="1.0" />
<rect x="198.8" y="491.0" width="5.9" height="5.9" fill="#000"/>
<rect x="198.8" y="500.0" width="5.9" height="5.9" fill="#000"/>
<rect x="198.8" y="502.3" width="5.9" height="5.9" fill="#000"/>
<rect x="198.8" y="505.2" width="5.9" height="5.9" fill="#000"/>
<rect x="198.8" y="508.2" width="5.9" height="5.9" fill="#000"/>
<rect x="198.8" y="511.1" width="5.9" height="5.9" fill="#000"/>
<rect x="198.8" y="514.1" width="5.9" height="5.9" fill="#000"/>
<rect x="198.8" y="516.3" width="5.9" height="5.9" fill="#000"/>
<path d="M111.39,428.10 L118.80,428.10 M112.95,424.38 L117.24,431.82 M117.24,424.38 L112.95,431.82 " stroke="#000" stroke-width="1.9" stroke-linecap="butt" fill="none"/>
<path d="M120.20,428.10 L127.61,428.10 M121.76,424.38 L126.05,431.82 M126.05,424.38 L121.76,431.82 " stroke="#000" stroke-width="1.9" stroke-linecap="butt" fill="none"/>
<path d="M151.94,453.40 L159.36,453.40 M153.50,449.68 L157.80,457.12 M157.80,449.68 L153.50,457.12 " stroke="#000" stroke-width="1.9" stroke-linecap="butt" fill="none"/>
<path d="M161.44,453.40 L168.86,453.40 M163.00,449.68 L167.30,457.12 M167.30,449.68 L163.00,457.12 " stroke="#000" stroke-width="1.9" stroke-linecap="butt" fill="none"/>
<path d="M171.14,453.40 L178.56,453.40 M172.70,449.68 L177.00,457.12 M177.00,449.68 L172.70,457.12 " stroke="#000" stroke-width="1.9" stroke-linecap="butt" fill="none"/>
<rect x="192.0" y="410.4" width="8" height="8" fill="#000"/>
<text transform="translate(208.3,420.6) scale(1.07,1.0)" font-size="17.2" text-anchor="start">WT</text>
<path d="M192.8,431.1 L199.2,431.1 L196.0,436.9 Z" fill="#fff" stroke="#000" stroke-width="1.8"/>
<text transform="translate(209.8,438.4) scale(1.07,1.0)" font-size="17.2" text-anchor="start">KO</text>
<text transform="translate(302,405.20) scale(1,1.085)" font-size="28" style="stroke-width:1.05px">G</text>
<rect x="376.6" y="405.4" width="125.6" height="119.8" fill="none" stroke="#000" stroke-width="2.4"/>
<line x1="439.8" y1="405.4" x2="439.8" y2="525.2" stroke="#000" stroke-width="2" />
<line x1="370.2" y1="525.2" x2="376.6" y2="525.2" stroke="#000" stroke-width="2" />
<text x="368.1" y="530.38" font-size="15.6" text-anchor="end">0</text>
<line x1="370.2" y1="495.25000000000006" x2="376.6" y2="495.25000000000006" stroke="#000" stroke-width="2" />
<text x="366.4" y="500.43" font-size="15.6" text-anchor="end">5</text>
<line x1="370.2" y1="465.30000000000007" x2="376.6" y2="465.30000000000007" stroke="#000" stroke-width="2" />
<text x="366.4" y="470.48" font-size="15.6" text-anchor="end">10</text>
<line x1="370.2" y1="435.35" x2="376.6" y2="435.35" stroke="#000" stroke-width="2" />
<text x="366.4" y="440.53" font-size="15.6" text-anchor="end">15</text>
<line x1="370.2" y1="405.40000000000003" x2="376.6" y2="405.40000000000003" stroke="#000" stroke-width="2" />
<text x="366.4" y="410.58" font-size="15.6" text-anchor="end">20</text>
<text transform="translate(342.4,463.6) rotate(-90)" x="0" y="0" font-size="16.2" text-anchor="middle" >% BrdU<tspan font-size="16.5" dy="-4.6" dx="0.2">+</tspan></text>
<line x1="392.70000000000005" y1="418.88" x2="392.70000000000005" y2="414.39" stroke="#000" stroke-width="2" />
<line x1="384.30000000000007" y1="414.39" x2="401.1" y2="414.39" stroke="#000" stroke-width="2.2" />
<rect x="381.6" y="419.9" width="22.2" height="105.3" fill="#000" stroke="#000" stroke-width="2"/>
<line x1="421.70000000000005" y1="433.43" x2="421.70000000000005" y2="429.06" stroke="#000" stroke-width="2" />
<line x1="413.30000000000007" y1="429.06" x2="430.1" y2="429.06" stroke="#000" stroke-width="2.2" />
<rect x="410.6" y="434.4" width="22.2" height="90.8" fill="#fff" stroke="#000" stroke-width="2"/>
<line x1="455.3" y1="461.11" x2="455.3" y2="455.42" stroke="#000" stroke-width="2" />
<line x1="446.90000000000003" y1="455.42" x2="463.7" y2="455.42" stroke="#000" stroke-width="2.2" />
<rect x="444.3" y="462.1" width="22.0" height="63.1" fill="#000" stroke="#000" stroke-width="2"/>
<line x1="484.1" y1="481.17" x2="484.1" y2="478.48" stroke="#000" stroke-width="2" />
<line x1="475.70000000000005" y1="478.48" x2="492.5" y2="478.48" stroke="#000" stroke-width="2.2" />
<rect x="473.2" y="482.2" width="21.8" height="43.0" fill="#fff" stroke="#000" stroke-width="2"/>
<path d="M405.30,414.10 L412.70,414.10 M406.86,410.38 L411.14,417.82 M411.14,410.38 L406.86,417.82 " stroke="#000" stroke-width="1.8" stroke-linecap="butt" fill="none"/>
<path d="M467.30,456.40 L474.70,456.40 M468.86,452.68 L473.14,460.12 M473.14,452.68 L468.86,460.12 " stroke="#000" stroke-width="1.8" stroke-linecap="butt" fill="none"/>
<rect x="456.3" y="410.3" width="11.5" height="11" fill="#000"/>
<text x="473" y="421.8" font-size="16.2" text-anchor="start" >WT</text>
<rect x="458.2" y="429.6" width="8.6" height="9" fill="#fff" stroke="#000" stroke-width="2"/>
<text x="474.3" y="440.1" font-size="16.2" text-anchor="start" >KO</text>
<text x="375.6" y="546.6" font-size="15.6" text-anchor="start" >KLRG1<tspan font-size="11" dy="-4.3" dx="1.2">+</tspan></text>
<text x="444.8" y="546.6" font-size="15.6" text-anchor="start" >CD127<tspan font-size="11" dy="-4.3" dx="1.2">+</tspan></text>
<text x="435.5" y="567" font-size="17" text-anchor="middle" >CD8 Subset</text>
</svg>
</body></html>
